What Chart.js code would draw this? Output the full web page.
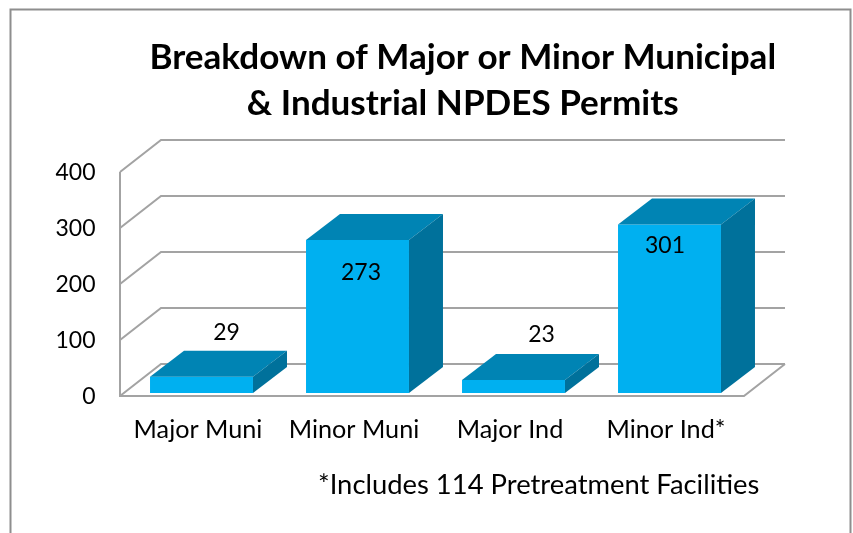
<!DOCTYPE html>
<html>
<head>
<meta charset="utf-8">
<style>html,body{margin:0;padding:0;background:#fff}canvas{display:block}</style>
<script src="https://cdn.jsdelivr.net/npm/chart.js@4"></script>
</head>
<body>
<canvas id="c" width="853" height="533"></canvas>
<script>
const categories = ["Major Muni", "Minor Muni", "Major Ind", "Minor Ind*"];
const permits = [29, 273, 23, 301];
const titleLines = ["Breakdown of Major or Minor Municipal", "& Industrial NPDES Permits"];
const footnote = "*Includes 114 Pretreatment Facilities";
const FONT = "Lato, Carlito, sans-serif";
const GRID = "#a3a3a3";

const threeD = {
  id: "threeD",
  afterLayout(chart) {
    const t = chart.titleBlock;
    if (t) { t.left += 89; t.right += 89; }
  },
  beforeDraw(chart) {
    const { ctx } = chart;
    ctx.save();
    ctx.fillStyle = "#fff";
    ctx.fillRect(0, 0, 853, 533);
    ctx.strokeStyle = "#8e8e8e";
    ctx.lineWidth = 2;
    ctx.beginPath();
    ctx.moveTo(10.5, 540); ctx.lineTo(10.5, 9.5); ctx.lineTo(850.5, 9.5); ctx.lineTo(850.5, 540);
    ctx.stroke();
    ctx.restore();
  },
  beforeDatasetsDraw(chart) {
    const { ctx, scales: { x, y } } = chart;
    const ax = x.left - 3.5, ay = 3, dx = 41, dy = 32;
    const fr = x.right - 3.5;
    ctx.save();
    ctx.strokeStyle = GRID;
    ctx.lineWidth = 2;
    ctx.lineJoin = "miter";
    y.ticks.forEach(t => {
      const py = y.getPixelForValue(t.value) + ay;
      ctx.beginPath();
      ctx.moveTo(ax, py);
      ctx.lineTo(ax + dx, py - dy);
      ctx.lineTo(fr + dx, py - dy);
      ctx.stroke();
    });
    const top = y.getPixelForValue(400) + ay, bot = y.getPixelForValue(0) + ay;
    ctx.beginPath();
    ctx.moveTo(ax, top); ctx.lineTo(ax, bot); ctx.lineTo(fr, bot); ctx.lineTo(fr + dx, bot - dy);
    ctx.stroke();
    ctx.restore();
  },
  afterDatasetsDraw(chart) {
    const { ctx } = chart;
    const meta = chart.getDatasetMeta(0);
    const dx = 34, dy = 26;
    ctx.save();
    meta.data.forEach(b => {
      const l = b.x - b.width / 2, r = b.x + b.width / 2, t = b.y, bt = b.base;
      ctx.fillStyle = "#0084b4";
      ctx.beginPath();
      ctx.moveTo(l, t); ctx.lineTo(l + dx, t - dy); ctx.lineTo(r + dx, t - dy); ctx.lineTo(r, t);
      ctx.closePath(); ctx.fill();
      ctx.fillStyle = "#00719b";
      ctx.beginPath();
      ctx.moveTo(r, t); ctx.lineTo(r + dx, t - dy); ctx.lineTo(r + dx, bt - dy); ctx.lineTo(r, bt);
      ctx.closePath(); ctx.fill();
    });
    const shift = chart.options.plugins.threeD.labelShift;
    ctx.fillStyle = "#000";
    ctx.font = "23px " + FONT;
    ctx.textAlign = "center";
    ctx.textBaseline = "middle";
    meta.data.forEach((b, i) => {
      ctx.fillText(String(permits[i]), b.x + shift[i][0], b.y + shift[i][1]);
    });
    ctx.font = "27.4px " + FONT;
    ctx.textAlign = "left";
    ctx.fillText(footnote, 318, 485);
    ctx.restore();
  }
};

new Chart(document.getElementById("c"), {
  type: "bar",
  data: {
    labels: categories,
    datasets: [{
      data: permits,
      backgroundColor: "#00b0f0",
      borderWidth: 0,
      barPercentage: 0.66,
      categoryPercentage: 1
    }]
  },
  plugins: [threeD],
  options: {
    responsive: false,
    animation: false,
    layout: { padding: { left: 0, right: 105.5, top: 0, bottom: 0 } },
    plugins: {
      legend: { display: false },
      tooltip: { enabled: false },
      threeD: { labelShift: [[25, -44], [3.5, 32], [28, -46], [-4.5, 21]] },
      title: {
        display: true,
        text: titleLines,
        color: "#000",
        font: { family: FONT, size: 35.1, weight: "bold", lineHeight: 1.31 },
        padding: { top: 35, bottom: 42 }
      }
    },
    scales: {
      x: {
        grid: { display: false, drawTicks: false },
        border: { display: false },
        afterFit: s => { s.height = 140; },
        ticks: { color: "#000", font: { family: FONT, size: 25.2 }, padding: 22, labelOffset: -3.5, maxRotation: 0, autoSkip: false }
      },
      y: {
        min: 0, max: 400,
        grid: { display: false, drawTicks: false },
        border: { display: false },
        afterFit: s => { s.width = 123.5; },
        ticks: { stepSize: 100, color: "#000", font: { family: FONT, size: 23 }, padding: 28, labelOffset: 4 }
      }
    }
  }
});
</script>
</body>
</html>
